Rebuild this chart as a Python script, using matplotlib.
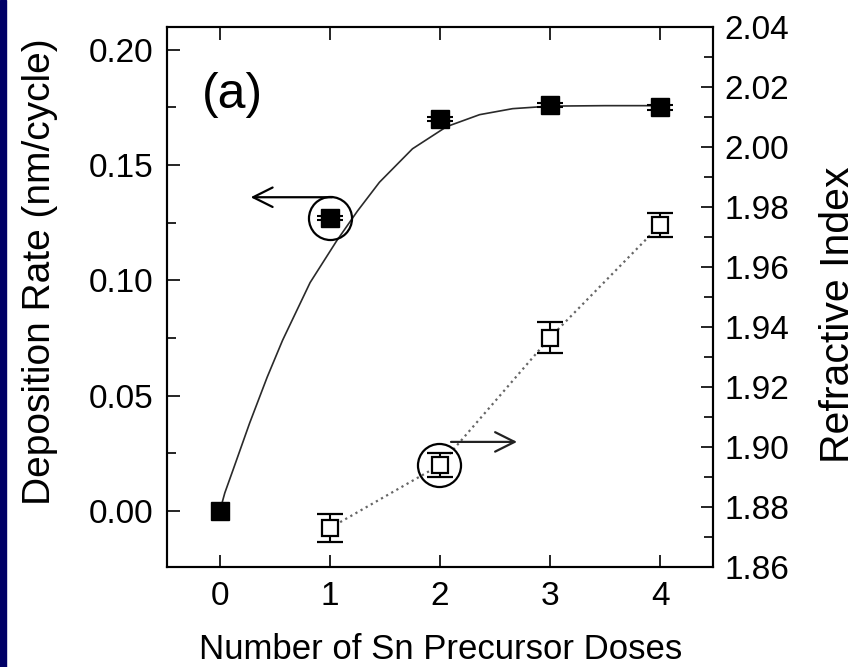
import matplotlib
matplotlib.use("Agg")
import matplotlib.pyplot as plt
from matplotlib.ticker import MultipleLocator, FormatStrFormatter

plt.rcParams["font.family"] = ["Liberation Sans", "DejaVu Sans"]

# Deposition rate (left axis), filled squares
doses = [0, 1, 2, 3, 4]
rate = [0.000, 0.127, 0.170, 0.176, 0.175]
rate_err = [0.0, 0.001, 0.001, 0.001, 0.001]

# Fit curve
fit_x = [0.0, 0.045, 0.12, 0.27, 0.43, 0.57, 0.82, 1.06, 1.25, 1.45, 1.75,
         2.06, 2.36, 2.66, 3.0, 3.5, 4.0]
fit_y = [0.000, 0.0078, 0.0178, 0.038, 0.058, 0.074, 0.099, 0.117, 0.130, 0.1425,
         0.157, 0.1666, 0.1718, 0.1744, 0.1755, 0.1757, 0.1757]

# Refractive index (right axis), open squares
ri_doses = [1, 2, 3, 4]
ri = [1.873, 1.894, 1.9365, 1.974]
ri_err = [0.0047, 0.004, 0.0053, 0.004]

# circle highlights and arrows
left_circle = (1, 0.127)
left_arrow = ((1.02, 0.136), (0.28, 0.136))
right_circle = (1.99, 1.894)
right_arrow = ((2.1, 1.9017), (2.7, 1.9017))

fig = plt.figure(figsize=(8.58, 6.67), dpi=100)
fig.patch.set_facecolor("white")
# navy strip on the left edge
fig.add_artist(plt.Rectangle((0, 0), 6 / 858, 1, transform=fig.transFigure,
                             color="#000066", zorder=0))

ax = fig.add_axes([167 / 858, 1 - 567 / 667, 546 / 858, 540 / 667])
ax2 = ax.twinx()

ax.plot(fit_x, fit_y, color="#2a2a2a", lw=1.2, zorder=2)
ax.plot(doses, rate, "s", ms=13, color="black", zorder=3)
ax.errorbar(doses[1:], rate[1:], yerr=rate_err[1:], fmt="none", ecolor="black",
            elinewidth=1.2, capsize=9.5, capthick=1.5, zorder=3)
ax.plot(*left_circle, "o", ms=31, mfc="none", mec="black", mew=1.6, zorder=4)
ax.annotate("", xy=left_arrow[1], xytext=left_arrow[0],
            arrowprops=dict(arrowstyle="->,head_length=0.7,head_width=0.35",
                            mutation_scale=20, lw=1.6, color="black",
                            shrinkA=0, shrinkB=0))

ax2.plot(ri_doses, ri, ":", color="#666666", lw=1.6, zorder=2)
ax2.errorbar(ri_doses, ri, yerr=ri_err, fmt="s", ms=11, mfc="white", mec="black",
             mew=1.6, ecolor="black", elinewidth=1.5, capsize=9.5, capthick=1.6,
             zorder=3)
ax2.plot(*right_circle, "o", ms=31, mfc="none", mec="black", mew=1.6, zorder=4)
ax2.annotate("", xy=right_arrow[1], xytext=right_arrow[0],
             arrowprops=dict(arrowstyle="->,head_length=0.7,head_width=0.35",
                             mutation_scale=20, lw=1.6, color="#222222",
                             shrinkA=0, shrinkB=0))

ax.set_xlim(-0.48, 4.48)
ax.set_ylim(-0.0243, 0.2098)
ax2.set_ylim(1.86, 2.04)

ax.set_xticks(doses)
ax.yaxis.set_major_locator(MultipleLocator(0.05))
ax.yaxis.set_minor_locator(MultipleLocator(0.025))
ax.yaxis.set_major_formatter(FormatStrFormatter("%.2f"))
ax2.yaxis.set_major_locator(MultipleLocator(0.02))
ax2.yaxis.set_minor_locator(MultipleLocator(0.01))
ax2.yaxis.set_major_formatter(FormatStrFormatter("%.2f"))

ax.tick_params(axis="x", which="major", direction="in", top=True, length=9,
               width=1.2, labelsize=24, pad=10)
ax.tick_params(axis="y", which="major", direction="in", length=9, width=1.2,
               labelsize=24, pad=10)
ax.tick_params(axis="y", which="minor", direction="in", length=6.5, width=1.2)
ax2.tick_params(axis="y", which="major", direction="in", length=9, width=1.2,
                labelsize=24, pad=8)
ax2.tick_params(axis="y", which="minor", direction="in", length=6.5, width=1.2)

for a in (ax, ax2):
    for s in a.spines.values():
        s.set_linewidth(1.5)

ax.text(0.12, 0.875, "(a)", transform=ax.transAxes, fontsize=36,
        ha="center", va="center")

fig.text(441 / 858, 1 - 659 / 667, "Number of Sn Precursor Doses", fontsize=25,
         ha="center", va="baseline")
fig.text(40 / 858, 1 - 272 / 667, "Deposition Rate (nm/cycle)", fontsize=28,
         rotation=90, ha="center", va="center")
fig.text(838 / 858, 1 - 315 / 667, "Refractive Index", fontsize=29.5,
         rotation=90, ha="center", va="center")

fig.savefig("out.png", dpi=100)
